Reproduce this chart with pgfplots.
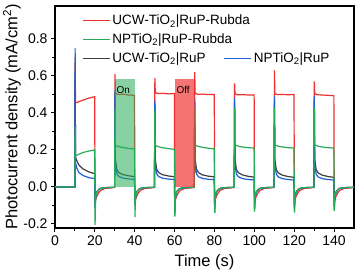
\documentclass[border=0pt]{standalone}
\usepackage{fontspec}
\setmainfont{Liberation Sans}
\usepackage{pgfplots}
\usepackage{pgfplotstable}
\pgfplotsset{compat=1.18}
\definecolor{cred}{RGB}{240,48,48}
\definecolor{cgreen}{RGB}{38,172,88}
\definecolor{cblack}{RGB}{62,62,62}
\definecolor{cblue}{RGB}{28,96,212}
\pgfplotstableread{
t r g k b
0 0 0 0 0
10 0 0 0 0
10.1 0.67 0.33 0.70 0.75
10.3 0.455 0.168 0.16 0.13
11 0.456 0.172 0.14 0.10
12 0.461 0.177 0.118 0.078
14 0.469 0.186 0.098 0.062
17 0.480 0.194 0.081 0.050
19.9 0.488 0.200 0.072 0.045
20.1 -0.085 -0.205 -0.10 -0.115
20.4 -0.068 -0.055 -0.05 -0.058
21 -0.05 -0.028 -0.026 -0.03
22 -0.03 -0.014 -0.013 -0.015
23 -0.018 -0.008 -0.007 -0.008
25 -0.008 -0.004 -0.004 -0.004
29.9 -0.003 -0.002 -0.002 -0.002
30.1 0.61 0.42 0.50 0.52
30.3 0.51 0.226 0.15 0.12
31 0.503 0.222 0.095 0.072
32 0.499 0.218 0.078 0.057
34 0.501 0.213 0.067 0.048
37 0.497 0.208 0.060 0.043
39.9 0.495 0.205 0.056 0.041
40.1 -0.085 -0.163 -0.10 -0.10
40.4 -0.068 -0.055 -0.05 -0.058
41 -0.05 -0.028 -0.026 -0.03
42 -0.03 -0.014 -0.013 -0.015
43 -0.018 -0.008 -0.007 -0.008
45 -0.008 -0.004 -0.004 -0.004
49.9 -0.003 -0.002 -0.002 -0.002
50.1 0.59 0.42 0.45 0.47
50.3 0.512 0.225 0.15 0.12
51 0.507 0.221 0.095 0.072
52 0.505 0.217 0.078 0.056
54 0.506 0.212 0.066 0.047
57 0.503 0.207 0.059 0.042
59.9 0.505 0.203 0.055 0.040
60.1 -0.09 -0.16 -0.13 -0.157
60.4 -0.07 -0.056 -0.052 -0.06
61 -0.05 -0.028 -0.026 -0.03
62 -0.03 -0.014 -0.013 -0.015
63 -0.018 -0.008 -0.007 -0.008
65 -0.008 -0.004 -0.004 -0.004
69.9 -0.003 -0.002 -0.002 -0.002
70.1 0.62 0.42 0.46 0.48
70.3 0.51 0.227 0.15 0.12
71 0.503 0.223 0.094 0.070
72 0.500 0.219 0.077 0.055
74 0.502 0.214 0.065 0.046
77 0.499 0.209 0.058 0.041
79.9 0.500 0.206 0.055 0.040
80.1 -0.085 -0.14 -0.12 -0.14
80.4 -0.068 -0.055 -0.05 -0.058
81 -0.05 -0.028 -0.026 -0.03
82 -0.03 -0.014 -0.013 -0.015
83 -0.018 -0.008 -0.007 -0.008
85 -0.008 -0.004 -0.004 -0.004
89.9 -0.003 -0.002 -0.002 -0.002
90.1 0.56 0.43 0.46 0.48
90.3 0.505 0.228 0.15 0.12
91 0.500 0.224 0.094 0.070
92 0.498 0.220 0.077 0.055
94 0.499 0.216 0.065 0.045
97 0.497 0.212 0.057 0.040
99.9 0.497 0.210 0.053 0.038
100.1 -0.08 -0.133 -0.115 -0.13
100.4 -0.068 -0.055 -0.05 -0.058
101 -0.05 -0.028 -0.026 -0.03
102 -0.03 -0.014 -0.013 -0.015
103 -0.018 -0.008 -0.007 -0.008
105 -0.008 -0.004 -0.004 -0.004
109.9 -0.003 -0.002 -0.002 -0.002
110.1 0.63 0.43 0.47 0.49
110.3 0.505 0.228 0.15 0.12
111 0.501 0.224 0.094 0.070
112 0.499 0.220 0.076 0.054
114 0.500 0.216 0.064 0.045
117 0.498 0.212 0.056 0.040
119.9 0.500 0.210 0.052 0.037
120.1 -0.085 -0.139 -0.12 -0.135
120.4 -0.068 -0.055 -0.05 -0.058
121 -0.05 -0.028 -0.026 -0.03
122 -0.03 -0.014 -0.013 -0.015
123 -0.018 -0.008 -0.007 -0.008
125 -0.008 -0.004 -0.004 -0.004
129.9 -0.003 -0.002 -0.002 -0.002
130.1 0.57 0.43 0.47 0.49
130.3 0.505 0.228 0.15 0.12
131 0.501 0.224 0.094 0.070
132 0.498 0.220 0.076 0.054
134 0.497 0.216 0.064 0.045
137 0.495 0.212 0.056 0.040
139.9 0.493 0.210 0.052 0.037
140.1 -0.08 -0.13 -0.11 -0.125
140.4 -0.068 -0.055 -0.05 -0.058
141 -0.05 -0.028 -0.026 -0.03
142 -0.03 -0.014 -0.013 -0.015
143 -0.018 -0.008 -0.007 -0.008
145 -0.008 -0.004 -0.004 -0.004
150 -0.003 -0.002 -0.002 -0.002
}\data
\begin{document}
\begin{tikzpicture}
\begin{axis}[
  scale only axis, width=299pt, height=222pt,
  xmin=0, xmax=150, ymin=-0.222, ymax=0.978,
  xtick={0,20,...,140}, minor x tick num=1,
  ytick={-0.2,0,0.2,0.4,0.6,0.8}, minor y tick num=1,
  tick align=outside, tick pos=left,
  major tick length=4pt, minor tick length=2.5pt,
  axis line style={line width=1.1pt},
  every tick/.style={line width=1pt, black},
  /pgf/number format/assume math mode=true,
  yticklabel style={/pgf/number format/fixed, /pgf/number format/fixed zerofill, /pgf/number format/precision=1},
  ticklabel style={font=\fontsize{14}{16}\selectfont},
  xlabel={Time (s)}, ylabel={Photocurrent density (mA/cm\textsuperscript{2})},
  label style={font=\fontsize{16.5}{18}\selectfont},
  ylabel style={at={(axis description cs:-0.144,0.5)}, anchor=center, rotate=0},
  xlabel style={at={(axis description cs:0.5,-0.153)}, anchor=center},
  legend columns=2,
  legend cell align=left,
  legend style={draw=none, fill=none, at={(axis description cs:0.08,0.978)}, anchor=north west,
    font=\fontsize{13.5}{15}\selectfont, row sep=3.5pt, /tikz/every even column/.append style={column sep=16pt}},
  legend image code/.code={\draw[#1, line width=1.3pt] (0pt,0pt) -- (27pt,0pt);},
]
\addplot[cred, line width=1.2pt, forget plot] table[x=t, y=r]{\data};
\addplot[cblack, line width=1.2pt, forget plot] table[x=t, y=k]{\data};
\addplot[cblue, line width=1.2pt, forget plot] table[x=t, y=b]{\data};
\addplot[cgreen, line width=1.2pt, forget plot] table[x=t, y=g]{\data};
\addplot[fill=cgreen, fill opacity=0.55, draw=none, forget plot] coordinates {(30,0) (30,0.585) (40.2,0.585) (40.2,0)} -- cycle;
\addplot[fill=cred, fill opacity=0.68, draw=none, forget plot] coordinates {(60,0) (60,0.585) (70,0.585) (70,0)} -- cycle;
\node[font=\fontsize{10}{12}\selectfont] at (axis cs:34.3,0.524) {On};
\node[font=\fontsize{10}{12}\selectfont] at (axis cs:64.3,0.524) {Off};
\addlegendimage{cred}
\addlegendentry{\makebox[0pt][l]{UCW-TiO\textsubscript{2}|RuP-Rubda}}
\addlegendimage{empty legend}
\addlegendentry{}
\addlegendimage{cgreen}
\addlegendentry{\makebox[0pt][l]{NPTiO\textsubscript{2}|RuP-Rubda}}
\addlegendimage{empty legend}
\addlegendentry{}
\addlegendimage{cblack}
\addlegendentry{UCW-TiO\textsubscript{2}|RuP}
\addlegendimage{cblue}
\addlegendentry{NPTiO\textsubscript{2}|RuP}
\end{axis}
\pgfresetboundingbox
\path[use as bounding box] ([shift={(-55pt,-45pt)}]current axis.south west) rectangle ([shift={(2pt,6pt)}]current axis.north east);
\end{tikzpicture}
\end{document}
